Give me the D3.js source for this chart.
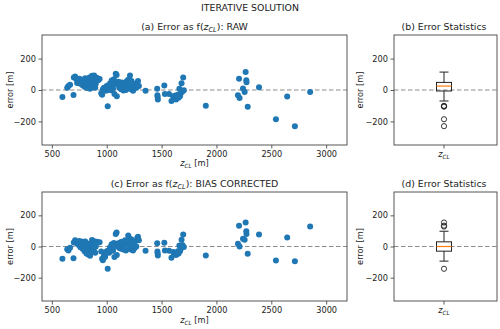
<!DOCTYPE html>
<html>
<head>
<meta charset="utf-8">
<script src="https://cdn.jsdelivr.net/npm/d3@7"></script>
<style>
  body { margin: 0; background: #fff; }
  text { font-family: "DejaVu Sans", sans-serif; fill: #222; }
</style>
</head>
<body>
<script>
// cloud-base height z_CL [m]
const zcl = [596,640,651,666,697,700,712,722,730,738,745,752,760,766,772,780,786,792,798,804,810,815,820,826,832,838,843,848,852,857,862,866,871,876,880,885,890,895,900,910,922,935,950,958,965,975,985,992,1000,1009,1015,1022,1030,1038,1045,1052,1058,1065,1070,1077,1082,1090,1092,1100,1108,1115,1122,1130,1138,1145,1152,1160,1168,1175,1182,1190,1196,1205,1212,1220,1226,1232,1240,1248,1255,1262,1270,1278,1285,1293,1354,1460,1462,1464,1466,1525,1530,1568,1590,1605,1615,1625,1632,1640,1648,1655,1662,1668,1675,1682,1690,1697,1703,1903,2196,2206,2211,2242,2257,2266,2272,2274,2285,2388,2542,2645,2715,2854];

// error, raw
const errRaw = [-44,15,25,34,-32,80,86,70,45,50,48,72,40,60,50,30,66,42,20,74,48,35,12,46,45,25,80,8,40,68,18,90,44,30,72,92,42,15,40,78,62,70,-20,-30,5,15,10,-5,25,-103,30,0,42,-2,60,20,10,68,-25,45,104,96,-40,35,52,15,30,5,48,22,-3,20,38,0,55,15,65,30,92,5,58,25,-5,30,12,40,15,45,58,25,-5,8,-34,-45,-60,28,-25,-25,-70,-40,-55,-35,-60,-45,-30,-50,8,-40,-20,43,-10,79,-2,-101,-34,72,-51,9,-13,114,62,49,-106,17,-186,-42,-230,-13];

// error, bias corrected
const errCorr = [-79,-18,-26,-8,-75,25,40,30,18,22,10,35,-5,25,30,-15,30,8,-30,32,20,-45,-30,-10,-52,-20,20,-60,-35,15,-25,42,5,-12,35,30,-5,-40,0,30,25,28,-32,-79,-88,-60,-68,-45,-30,-143,-25,-40,-5,-20,15,8,-28,22,-68,0,81,90,-55,20,10,-10,25,-15,30,5,-20,15,40,-25,25,10,70,0,50,-20,45,30,-25,20,-10,35,0,55,62,40,-28,21,-32,-45,-58,24,-26,-28,-72,-35,-50,-42,-55,-48,-30,-45,6,-30,-15,43,10,77,-4,-58,17,134,0,49,43,154,98,81,-47,77,-90,58,-94,128];

const xTicks = [500, 1000, 1500, 2000, 2500, 3000];
const yTicks = [-200, 0, 200];

const W = 500, H = 329;
const blue = "#1f77b4";

const svg = d3.select("body").append("svg")
    .attr("width", W)
    .attr("height", H);

svg.append("rect").attr("width", W).attr("height", H).attr("fill", "#fff");

// label with italic z and subscript CL
function zLabel(sel, before, after, size) {
  sel.append("tspan").text(before);
  sel.append("tspan").attr("font-style", "italic").text("z");
  sel.append("tspan").attr("font-style", "italic").attr("font-size", size * 0.7)
      .attr("dy", size * 0.25).text("CL");
  sel.append("tspan").attr("dy", -size * 0.25).text(after);
}

svg.append("text")
    .attr("x", 250).attr("y", 11)
    .attr("text-anchor", "middle")
    .attr("font-size", 9.4)
    .text("ITERATIVE SOLUTION");

const x = d3.scaleLinear().domain([410, 3190]).range([42, 347]);

function yAxisStuff(g, y, left) {
  g.append("g")
      .attr("transform", `translate(${left},0)`)
      .call(d3.axisLeft(y).tickValues(yTicks).tickFormat(d3.format("d")).tickSizeOuter(0).tickSize(3.5).tickPadding(2.5))
      .call(a => a.select(".domain").remove())
      .call(a => a.selectAll("line").attr("stroke", "#333").attr("stroke-width", 0.8))
      .call(a => a.selectAll("text").attr("font-size", 8.2).attr("font-family", "DejaVu Sans").attr("fill", "#222"));
}

function frame(g, x0, x1, y0, y1) {
  g.append("rect")
      .attr("x", x0).attr("y", y0)
      .attr("width", x1 - x0).attr("height", y1 - y0)
      .attr("fill", "none")
      .attr("stroke", "#444")
      .attr("stroke-width", 0.9);
}

function zeroLine(g, x0, x1, y) {
  g.append("line")
      .attr("x1", x0).attr("x2", x1)
      .attr("y1", y(0)).attr("y2", y(0))
      .attr("stroke", "#8c8c8c")
      .attr("stroke-width", 1.2)
      .attr("stroke-dasharray", "4.5,2.5");
}

function scatterPanel(top, bottom, errs, prefix, suffix, titleY, xlabY) {
  const g = svg.append("g");
  const y = d3.scaleLinear().domain([-350, 350]).range([bottom, top]);

  zeroLine(g, 42, 347, y);

  g.append("g").selectAll("circle")
    .data(zcl)
    .join("circle")
      .attr("cx", d => x(d))
      .attr("cy", (d, i) => y(errs[i]))
      .attr("r", 3)
      .attr("fill", blue);

  g.append("g")
      .attr("transform", `translate(0,${bottom})`)
      .call(d3.axisBottom(x).tickValues(xTicks).tickFormat(d3.format("d")).tickSizeOuter(0).tickSize(3.5).tickPadding(2.5))
      .call(a => a.select(".domain").remove())
      .call(a => a.selectAll("line").attr("stroke", "#333").attr("stroke-width", 0.8))
      .call(a => a.selectAll("text").attr("font-size", 8.2).attr("font-family", "DejaVu Sans").attr("fill", "#222"));

  yAxisStuff(g, y, 42);
  frame(g, 42, 347, top, bottom);

  g.append("text")
      .attr("transform", `translate(13,${(top + bottom) / 2}) rotate(-90)`)
      .attr("text-anchor", "middle")
      .attr("font-size", 8.2)
      .text("error [m]");

  zLabel(g.append("text")
      .attr("x", 194.5).attr("y", titleY)
      .attr("text-anchor", "middle")
      .attr("font-size", 9.4), prefix, suffix, 9.4);

  zLabel(g.append("text")
      .attr("x", 194.5).attr("y", xlabY)
      .attr("text-anchor", "middle")
      .attr("font-size", 8.2), "", " [m]", 8.2);
}

function boxPanel(top, bottom, errs, title, titleY) {
  const g = svg.append("g");
  const y = d3.scaleLinear().domain([-350, 350]).range([bottom, top]);
  const bx = 444, bw = 15, cw = 9;

  zeroLine(g, 394, 497, y);

  const s = errs.slice().sort(d3.ascending);
  const q1 = d3.quantile(s, 0.25), med = d3.quantile(s, 0.5), q3 = d3.quantile(s, 0.75);
  const iqr = q3 - q1;
  const lo = d3.min(s.filter(v => v >= q1 - 1.5 * iqr));
  const hi = d3.max(s.filter(v => v <= q3 + 1.5 * iqr));
  const fliers = s.filter(v => v < lo || v > hi);

  // whiskers and caps
  [[q3, hi], [q1, lo]].forEach(([a, b]) => {
    g.append("line").attr("x1", bx).attr("x2", bx).attr("y1", y(a)).attr("y2", y(b))
        .attr("stroke", "#222").attr("stroke-width", 1);
    g.append("line").attr("x1", bx - cw / 2).attr("x2", bx + cw / 2).attr("y1", y(b)).attr("y2", y(b))
        .attr("stroke", "#222").attr("stroke-width", 1);
  });
  g.append("rect")
      .attr("x", bx - bw / 2).attr("y", y(q3))
      .attr("width", bw).attr("height", y(q1) - y(q3))
      .attr("fill", "none").attr("stroke", "#222").attr("stroke-width", 1);
  g.append("line")
      .attr("x1", bx - bw / 2).attr("x2", bx + bw / 2)
      .attr("y1", y(med)).attr("y2", y(med))
      .attr("stroke", "#ff7f0e").attr("stroke-width", 1.2);
  g.selectAll("circle.flier")
    .data(fliers)
    .join("circle")
      .attr("cx", bx).attr("cy", d => y(d))
      .attr("r", 2.6)
      .attr("fill", "none")
      .attr("stroke", "#222")
      .attr("stroke-width", 0.9);

  // single x tick
  g.append("line").attr("x1", bx).attr("x2", bx).attr("y1", bottom).attr("y2", bottom + 3.5)
      .attr("stroke", "#333").attr("stroke-width", 0.8);
  zLabel(g.append("text")
      .attr("x", bx).attr("y", bottom + 12)
      .attr("text-anchor", "middle")
      .attr("font-size", 8.2), "", "", 8.2);

  yAxisStuff(g, y, 394);
  frame(g, 394, 497, top, bottom);

  g.append("text")
      .attr("transform", `translate(363,${(top + bottom) / 2}) rotate(-90)`)
      .attr("text-anchor", "middle")
      .attr("font-size", 8.2)
      .text("error [m]");

  g.append("text")
      .attr("x", bx).attr("y", titleY)
      .attr("text-anchor", "middle")
      .attr("font-size", 9.4)
      .text(title);
}

scatterPanel(35, 145, errRaw, "(a) Error as f(", "): RAW", 30, 166);
boxPanel(35, 145, errRaw, "(b) Error Statistics", 30);
scatterPanel(192, 301, errCorr, "(c) Error as f(", "): BIAS CORRECTED", 187, 323);
boxPanel(192, 301, errCorr, "(d) Error Statistics", 187);
</script>
</body>
</html>
